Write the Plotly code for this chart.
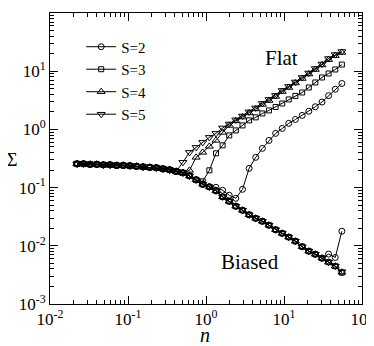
import plotly.graph_objects as go

# n values (log spaced)
n = [0.0222, 0.0269, 0.0327, 0.0398, 0.0484, 0.0588, 0.0715, 0.0869, 0.1057, 0.1285,
     0.1563, 0.190, 0.231, 0.281, 0.342, 0.415, 0.505, 0.614, 0.747, 0.908,
     1.104, 1.343, 1.633, 1.985, 2.41, 2.94, 3.57, 4.34, 5.28, 6.42,
     7.81, 9.49, 11.5, 14.0, 17.1, 20.8, 25.2, 30.7, 37.3, 45.4, 55.2]

# common "Biased" branch
biased = [0.256, 0.256, 0.251, 0.251, 0.246, 0.246, 0.241, 0.241, 0.237, 0.232,
          0.227, 0.223, 0.219, 0.210, 0.202, 0.190, 0.179, 0.159, 0.136, 0.114,
          0.103, 0.0881, 0.0695, 0.0582, 0.0478, 0.0408, 0.0341, 0.0297, 0.0264, 0.0226,
          0.0189, 0.0164, 0.0141, 0.0120, 0.00966, 0.00808, 0.00717, 0.00613, 0.00523, 0.00447,
          0.00352]

biased_s2 = biased[:38] + [0.0072, 0.0063, 0.0178]
biased_s3 = biased[:40] + [0.00345]
biased_s4 = biased[:]
biased_s5 = biased[:40] + [0.00358]

# "Flat" branch, diverging from the biased one
flat_s2 = biased[:21] + [0.101, 0.0899, 0.0738, 0.0655, 0.0935, 0.214, 0.331, 0.472, 0.647, 0.854,
                         1.04, 1.27, 1.48, 1.74, 2.05, 2.45, 2.95, 3.8, 4.9, 6.15]
flat_s3 = biased[:19] + [0.128, 0.198, 0.388, 0.532, 0.789, 0.961, 1.17, 1.43, 1.61, 1.88,
                         2.12, 2.43, 2.79, 3.27, 3.76, 4.31, 5.25, 6.40, 7.80, 9.13,
                         10.7, 13.0]
flat_s4 = biased[:17] + [0.198, 0.331, 0.403, 0.511, 0.647, 0.888, 1.17, 1.40,
                         1.63, 1.92, 2.25, 2.68, 3.14, 3.68, 4.48, 5.25, 6.27, 7.49,
                         8.94, 10.7, 12.8, 15.8, 18.5, 21.0]
flat_s5 = biased[:16] + [0.272, 0.403, 0.491, 0.598, 0.729, 0.854, 1.06, 1.24, 1.46, 1.70,
                         2.00, 2.34, 2.79, 3.27, 3.83, 4.67, 5.47, 6.53, 7.80, 9.31,
                         11.1, 13.3, 16.5, 19.3, 21.8]

labels = ["S=2", "S=3", "S=4", "S=5"]
symbols = ["circle-open", "square-open", "triangle-up-open", "triangle-down-open"]
sizes = [6, 5, 7, 7]
flats = [flat_s2, flat_s3, flat_s4, flat_s5]
biaseds = [biased_s2, biased_s3, biased_s4, biased_s5]

FONT = "Liberation Serif, Times New Roman, DejaVu Serif, serif"

fig = go.Figure()
for lab, sym, sz, fl, bi in zip(labels, symbols, sizes, flats, biaseds):
    fig.add_trace(go.Scatter(x=n, y=bi, mode="lines+markers", showlegend=False,
                             line=dict(color="black", width=1),
                             marker=dict(symbol=sym, size=sz, color="black", line=dict(width=1))))
    fig.add_trace(go.Scatter(x=n, y=fl, mode="lines+markers", name=lab,
                             line=dict(color="black", width=1),
                             marker=dict(symbol=sym, size=sz, color="black", line=dict(width=1))))

xminor = [m * 10 ** e for e in range(-2, 2) for m in range(2, 10)]
yminor = [m * 10 ** e for e in range(-3, 2) for m in range(2, 10)]

axis_common = dict(type="log", showgrid=False, zeroline=False, showline=True,
                   linecolor="black", linewidth=1, mirror="ticks", ticks="inside",
                   tickcolor="black", ticklen=8, tickwidth=1, automargin=False,
                   tickfont=dict(family=FONT, size=17, color="black"))

fig.update_xaxes(range=[-2, 2], tickmode="array",
                 tickvals=[0.01, 0.1, 1, 10, 100],
                 ticktext=["10<sup>-2</sup>", "10<sup>-1</sup>", "10<sup>0</sup>",
                           "10<sup>1</sup>", "10<sup>2</sup>"],
                 minor=dict(tickmode="array", tickvals=xminor, ticks="inside",
                            ticklen=4, tickcolor="black", showgrid=False),
                 **axis_common)
fig.update_yaxes(range=[-3, 2], tickmode="array",
                 tickvals=[0.001, 0.01, 0.1, 1, 10, 100],
                 ticktext=["10<sup>-3</sup>", "10<sup>-2</sup>", "10<sup>-1</sup>",
                           "10<sup>0</sup>", "10<sup>1</sup>", "10<sup>2</sup>"],
                 minor=dict(tickmode="array", tickvals=yminor, ticks="inside",
                            ticklen=4, tickcolor="black", showgrid=False),
                 **axis_common)

fig.add_annotation(x=0.97, y=1.22, xref="x", yref="y", text="Flat", showarrow=False,
                   font=dict(family=FONT, size=21, color="black"))
fig.add_annotation(x=0.56, y=-2.28, xref="x", yref="y", text="Biased", showarrow=False,
                   font=dict(family=FONT, size=21, color="black"))
fig.add_annotation(x=-0.122, y=0.495, xref="paper", yref="paper", text="Σ",
                   xanchor="center", yanchor="middle",
                   showarrow=False, font=dict(family=FONT, size=18, color="black"))
fig.add_annotation(x=0.497, y=-0.108, xref="paper", yref="paper", text="<i>n</i>",
                   xanchor="center", yanchor="middle",
                   showarrow=False, font=dict(family=FONT, size=20, color="black"))

# page body adds an 8px offset, so the figure is drawn 8px smaller
fig.update_layout(
    width=366, height=338,
    margin=dict(l=42, r=12, t=5, b=42),
    plot_bgcolor="white", paper_bgcolor="white",
    showlegend=True,
    legend=dict(x=0.1, y=0.94, xanchor="left", yanchor="top",
                bgcolor="rgba(0,0,0,0)", borderwidth=0,
                font=dict(family=FONT, size=15, color="black"),
                tracegroupgap=0, itemwidth=30),
)

fig.write_html("out.html")
